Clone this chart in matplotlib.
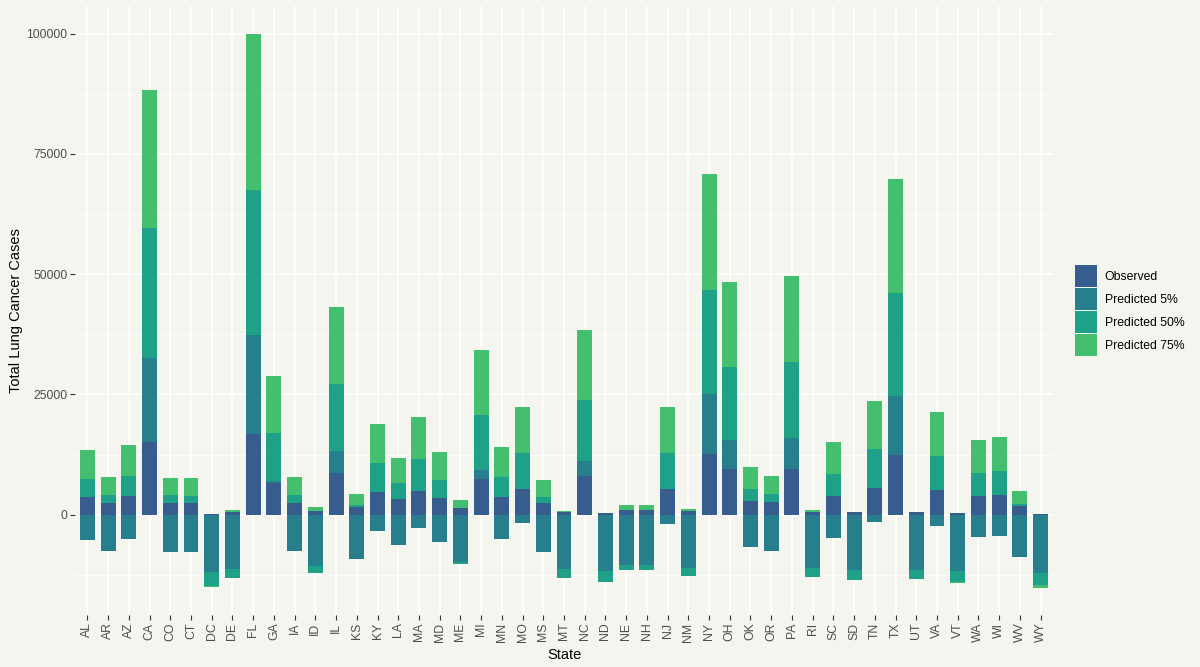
import numpy as np
import matplotlib.pyplot as plt
from matplotlib.ticker import MultipleLocator

plt.rcParams['font.family'] = ['Liberation Sans', 'DejaVu Sans']

# States along the x axis
states = ['AL', 'AR', 'AZ', 'CA', 'CO', 'CT', 'DC', 'DE', 'FL', 'GA', 'IA', 'ID',
          'IL', 'KS', 'KY', 'LA', 'MA', 'MD', 'ME', 'MI', 'MN', 'MO', 'MS', 'MT',
          'NC', 'ND', 'NE', 'NH', 'NJ', 'NM', 'NY', 'OH', 'OK', 'OR', 'PA', 'RI',
          'SC', 'SD', 'TN', 'TX', 'UT', 'VA', 'VT', 'WA', 'WI', 'WV', 'WY']

# Segment values (signed)
observed = [3620, 2380, 3890, 15100, 2380, 2380, 210, 620, 16690, 6530, 2380, 830,
            8650, 1660, 4680, 3270, 4860, 3440, 1460, 7420, 3620, 5300, 2380, 620,
            8040, 420, 1040, 1040, 5300, 830, 12540, 9450, 2830, 2650, 9450, 620,
            3890, 620, 5470, 12360, 620, 5200, 420, 3950, 4160, 1870, 210]

pred_5 = [-5300, -7590, -5030, 17570, -7770, -7770, -11990, -11230, 20750, 450, -7590, -10600,
          4500, -9150, -3330, -6240, -2700, -5610, -9770, 1850, -5030, -1770, -7770, -11230,
          3090, -11640, -10400, -10400, -1870, -11020, 12450, 6000, -6710, -7590, 6440, -11020,
          -4780, -11430, -1460, 12270, -11430, -2290, -11640, -4570, -4370, -8730, -12060]

pred_50 = [3800, 1680, 4150, 26840, 1680, 1510, -2770, -1870, 30110, 9970, 1680, -1460,
           13950, 420, 6000, 3260, 6710, 3710, -420, 11390, 4150, 7500, 1240, -1870,
           12630, -2290, -1040, -1040, 7500, -1660, 21810, 15190, 2470, 1590, 15810, -1870,
           4500, -2080, 8130, 21540, -1870, 7070, -2290, 4780, 4990, 420, -2490]

pred_75 = [6000, 3710, 6440, 28790, 3530, 3700, -350, 420, 32450, 11840, 3710, 830,
           15980, 2290, 8130, 5210, 8650, 5830, 1660, 13510, 6270, 9540, 3530, 210,
           14570, 0, 1040, 1040, 9540, 420, 23930, 17660, 4590, 3800, 17840, 420,
           6710, 0, 9980, 23670, 0, 9100, -210, 6890, 7070, 2700, -620]

series = [('Observed', observed, '#365d8d'),
          ('Predicted 5%', pred_5, '#277f8e'),
          ('Predicted 50%', pred_50, '#1fa187'),
          ('Predicted 75%', pred_75, '#44bf70')]

bg = '#f5f5f0'
fig = plt.figure(figsize=(12, 6.67), dpi=100, facecolor=bg)
ax = fig.add_axes([0.0625, 0.078, 0.815, 0.913])
ax.set_facecolor(bg)

x = np.arange(len(states))
pos_base = np.zeros(len(states))
neg_base = np.zeros(len(states))

# stack positive values up and negative values down, like ggplot does
for name, vals, color in series:
    v = np.array(vals, dtype=float)
    bottom = np.where(v >= 0, pos_base, neg_base)
    ax.bar(x, v, bottom=bottom, width=0.72, color=color, label=name,
           linewidth=0, zorder=3)
    pos_base += np.where(v >= 0, v, 0)
    neg_base += np.where(v < 0, v, 0)

ax.set_xlim(-0.6, len(states) - 0.4)
ax.set_ylim(-20860, 105760)
ax.set_xticks(x)
ax.set_xticklabels(states, rotation=90)
ax.set_yticks([0, 25000, 50000, 75000, 100000])
ax.yaxis.set_minor_locator(MultipleLocator(12500))

ax.grid(True, which='major', color='white', linewidth=1.1, zorder=0)
ax.grid(True, which='minor', axis='y', color='white', linewidth=0.55, zorder=0)
ax.set_axisbelow(True)

for s in ax.spines.values():
    s.set_visible(False)

ax.tick_params(axis='both', which='major', colors='#333333', labelcolor='#4d4d4d',
               labelsize=8.8, length=3.5, width=0.8, pad=2)
ax.tick_params(axis='y', which='minor', length=0)

ax.set_xlabel('State', fontsize=10.5, color='black', labelpad=4)
ax.set_ylabel('Total Lung Cancer Cases', fontsize=10.5, color='black', labelpad=2.5)

ax.legend(loc='center left', bbox_to_anchor=(0.896, 0.534), bbox_transform=fig.transFigure,
          frameon=False, fontsize=8.8, handlelength=1.8, handleheight=2.4,
          labelspacing=0.08, handletextpad=0.6, borderpad=0, borderaxespad=0)

fig.savefig('out.png', dpi=100, facecolor=bg)
